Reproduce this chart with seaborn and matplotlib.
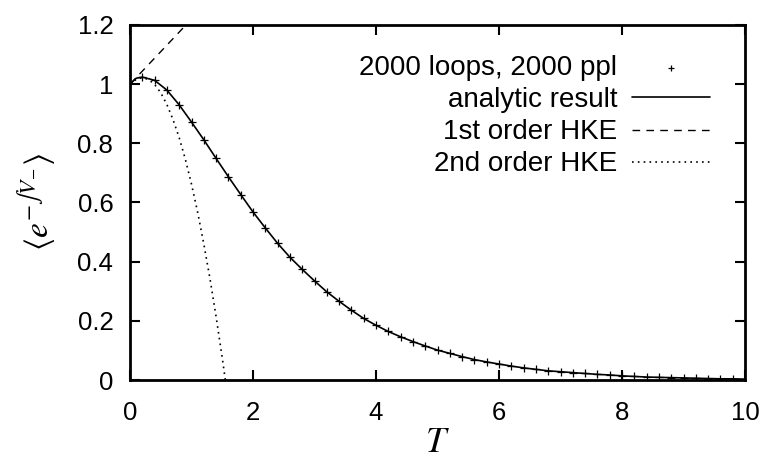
import seaborn as sns
import pandas as pd
import matplotlib
matplotlib.use('Agg')
import matplotlib.pyplot as plt

# Data
T_pts = [0.2, 0.4, 0.6, 0.8, 1.0, 1.2, 1.4, 1.6, 1.8, 2.0,
         2.2, 2.4, 2.6, 2.8, 3.0, 3.2, 3.4, 3.6, 3.8, 4.0,
         4.2, 4.4, 4.6, 4.8, 5.0, 5.2, 5.4, 5.6, 5.8, 6.0,
         6.2, 6.4, 6.6, 6.8, 7.0, 7.2, 7.4, 7.6, 7.8, 8.0,
         8.2, 8.4, 8.6, 8.8, 9.0, 9.2, 9.4, 9.6, 9.8]
mc_vals = [1.024, 1.013, 0.980, 0.930, 0.872, 0.812, 0.749, 0.687, 0.627, 0.568,
           0.514, 0.462, 0.415, 0.374, 0.335, 0.298, 0.266, 0.236, 0.208, 0.185,
           0.164, 0.146, 0.130, 0.115, 0.101, 0.090, 0.079, 0.069, 0.061, 0.054,
           0.047, 0.041, 0.036, 0.031, 0.028, 0.025, 0.022, 0.019, 0.017, 0.014,
           0.012, 0.010, 0.009, 0.008, 0.007, 0.006, 0.005, 0.004, 0.004]

T_exact = [0.0, 0.1] + T_pts + [10.0]
exact_vals = [1.0, 1.020] + mc_vals + [0.003]

T_hke1 = [0.0, 1.0]
hke1_vals = [1.0, 1.22]

T_hke2 = [0.0, 0.1, 0.2, 0.3, 0.4, 0.5, 0.6, 0.7, 0.8, 0.9, 1.0, 1.1, 1.2, 1.3, 1.4, 1.5, 1.55]
hke2_vals = [1.0, 1.016, 1.022, 1.016, 0.999, 0.971, 0.931, 0.880, 0.819, 0.746,
             0.662, 0.567, 0.460, 0.343, 0.214, 0.075, 0.0]

sns.set_style('ticks')
plt.rcParams['font.family'] = ['Liberation Sans', 'DejaVu Sans']
plt.rcParams['mathtext.fontset'] = 'stix'
plt.rcParams['text.color'] = 'black'
plt.rcParams['axes.labelcolor'] = 'black'
plt.rcParams['axes.edgecolor'] = 'black'
plt.rcParams['xtick.color'] = 'black'
plt.rcParams['ytick.color'] = 'black'

fig = plt.figure(figsize=(7.67, 4.72), dpi=100)
ax = fig.add_axes([130 / 767, 1 - 380 / 472, 615 / 767, 355 / 472])

sns.scatterplot(x=T_pts, y=mc_vals, ax=ax, marker='+', color='black', s=40,
                linewidth=0.9, label='2000 loops, 2000 ppl', zorder=3)
sns.lineplot(x=T_exact, y=exact_vals, ax=ax, color='black', linewidth=1.2,
             label='analytic result', sort=False)
sns.lineplot(x=T_hke1, y=hke1_vals, ax=ax, color='black', linewidth=1.0,
             linestyle=(0, (5.5, 4.5)), label='1st order HKE', sort=False)
sns.lineplot(x=T_hke2, y=hke2_vals, ax=ax, color='black', linewidth=1.2,
             linestyle=(0, (1, 2.5)), label='2nd order HKE', sort=False)

ax.set_xlim(0, 10)
ax.set_ylim(0, 1.2)
ax.set_xticks([0, 2, 4, 6, 8, 10])
ax.set_yticks([0, 0.2, 0.4, 0.6, 0.8, 1.0, 1.2])
ax.set_yticklabels(['0', '0.2', '0.4', '0.6', '0.8', '1', '1.2'])
ax.tick_params(direction='in', length=7, width=1.5, labelsize=18.5,
               top=True, right=True, colors='black')
ax.tick_params(axis='x', pad=15)
ax.tick_params(axis='y', pad=12)
for sp in ax.spines.values():
    sp.set_visible(True)
    sp.set_linewidth(2.0)
    sp.set_color('black')

ax.set_xlabel(r'$T$', fontsize=26, labelpad=0)
ax.set_ylabel(r'$\langle e^{-\int V_{-}}\rangle$', fontsize=24, labelpad=14)

leg = ax.legend(loc='upper right', bbox_to_anchor=((710 - 130) / 615, (380 - 55) / 355),
                frameon=False, markerfirst=False, fontsize=20, handlelength=2.8,
                handletextpad=0.54, labelspacing=0.22, borderpad=0, borderaxespad=0)
leg.legend_handles[0].set_sizes([25])

fig.savefig('out.png', dpi=100)
